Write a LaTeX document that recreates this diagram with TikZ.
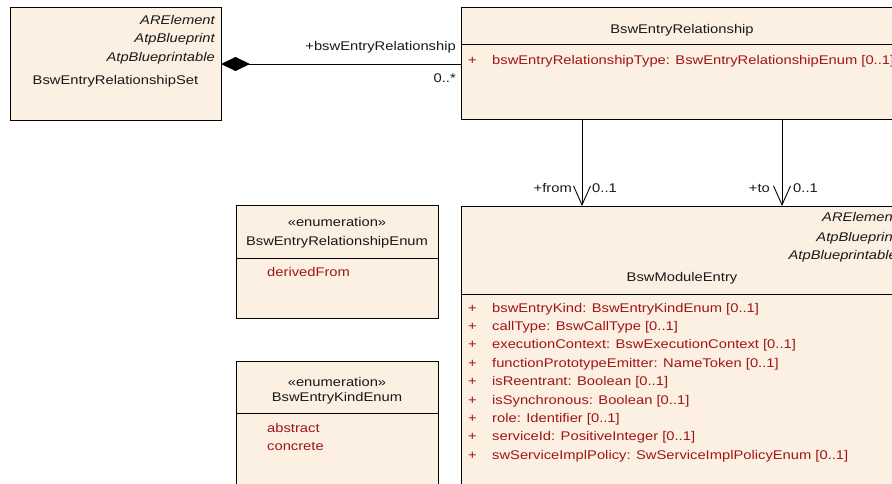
\documentclass[tikz,border=0pt]{standalone}
\usepackage{fontspec}
\setmainfont[FakeStretch=1.17]{Liberation Sans}
\usetikzlibrary{arrows.meta}
\definecolor{boxfill}{RGB}{251,240,226}
\definecolor{attrred}{RGB}{160,22,22}
\definecolor{txt}{RGB}{25,25,25}
\tikzset{
  cls/.style={draw=black, line width=1pt, fill=boxfill, inner sep=0pt, outer sep=0pt, anchor=north west},
  lbl/.style={inner sep=0pt, text=txt, font=\fontsize{12.6}{15}\selectfont},
  ital/.style={lbl, anchor=base east, font=\fontsize{12.6}{15}\selectfont\itshape},
  attr/.style={lbl, anchor=base west, text=attrred},
  sep/.style={draw=black, line width=1pt},
  assoc/.style={draw=black, line width=0.9pt},
  nav/.style={assoc, -{Straight Barb[length=19pt,width=17pt,line width=0.9pt]}},
}
\begin{document}
\begin{tikzpicture}[x=1pt,y=-1pt]
\useasboundingbox (0,0) rectangle (892,484);
\clip (0,0) rectangle (892,484);
% BswEntryRelationshipSet
\node[cls, minimum width=211pt, minimum height=113pt] (set) at (10,8) {};
\node[ital] (s1) at (215,25) {ARElement};
\node[ital] (s2) at (215,43) {AtpBlueprint};
\node[ital] (s3) at (215,62) {AtpBlueprintable};
\node[lbl, anchor=base] (s4) at (115.5,85) {BswEntryRelationshipSet};
% BswEntryRelationship
\node[cls, minimum width=442pt, minimum height=112pt] (rel) at (461,8) {};
\draw[sep] (461,45) -- (903,45);
\node[lbl, anchor=base] (r1) at (682,34) {BswEntryRelationship};
\node[attr] (r2p) at (468,65) {+};
\node[attr] (r2) at (492,65) {bswEntryRelationshipType: BswEntryRelationshipEnum [0..1]};
% BswModuleEntry
\node[cls, minimum width=442pt, minimum height=290pt] (mod) at (461,206) {};
\node[ital] (m1) at (897,222) {ARElement};
\node[ital] (m2) at (897,241) {AtpBlueprint};
\node[ital] (m3) at (897,259) {AtpBlueprintable};
\node[lbl, anchor=base] (m4) at (682,281) {BswModuleEntry};
\draw[sep] (461,294) -- (903,294);
\foreach \t [count=\i from 0] in {
  {bswEntryKind: BswEntryKindEnum [0..1]},
  {callType: BswCallType [0..1]},
  {executionContext: BswExecutionContext [0..1]},
  {functionPrototypeEmitter: NameToken [0..1]},
  {isReentrant: Boolean [0..1]},
  {isSynchronous: Boolean [0..1]},
  {role: Identifier [0..1]},
  {serviceId: PositiveInteger [0..1]},
  {swServiceImplPolicy: SwServiceImplPolicyEnum [0..1]}} {
  \node[attr] (ap\i) at (468,312+18.4*\i) {+};
  \node[attr] (at\i) at (492,312+18.4*\i) {\t};
}
% BswEntryRelationshipEnum
\node[cls, minimum width=202pt, minimum height=113pt] (ren) at (236,205) {};
\draw[sep] (236,258) -- (438,258);
\node[lbl, anchor=base] (e1) at (337,226) {«enumeration»};
\node[lbl, anchor=base] (e2) at (337,245) {BswEntryRelationshipEnum};
\node[attr] (e3) at (267,276) {derivedFrom};
% BswEntryKindEnum
\node[cls, minimum width=202pt, minimum height=135pt] (ken) at (236,361) {};
\draw[sep] (236,413) -- (438,413);
\node[lbl, anchor=base] (k1) at (337,386) {«enumeration»};
\node[lbl, anchor=base] (k2) at (337,401) {BswEntryKindEnum};
\node[attr] (k3) at (267,432) {abstract};
\node[attr] (k4) at (267,450) {concrete};
% composition
\coordinate (dtip) at (set.east |- 0,64);
\coordinate (rend) at (rel.west |- 0,64);
\draw[assoc] (dtip) -- (rend);
\fill[black] (dtip) -- ++(14.5,-7) -- ++(14.5,7) -- ++(-14.5,7) -- cycle;
\node[lbl, anchor=base east] (c1) at (456,51) {+bswEntryRelationship};
\node[lbl, anchor=base east] (c2) at (456,83) {0..*};
% from / to
\coordinate (fx) at (582,0);
\coordinate (tx) at (782,0);
\draw[nav] (rel.south -| fx) -- (mod.north -| fx);
\draw[nav] (rel.south -| tx) -- (mod.north -| tx);
\node[lbl, anchor=base east] (f1) at (572,193) {+from};
\node[lbl, anchor=base west] (f2) at (592,193) {0..1};
\node[lbl, anchor=base east] (t1) at (770,193) {+to};
\node[lbl, anchor=base west] (t2) at (793,193) {0..1};
\end{tikzpicture}
\end{document}
